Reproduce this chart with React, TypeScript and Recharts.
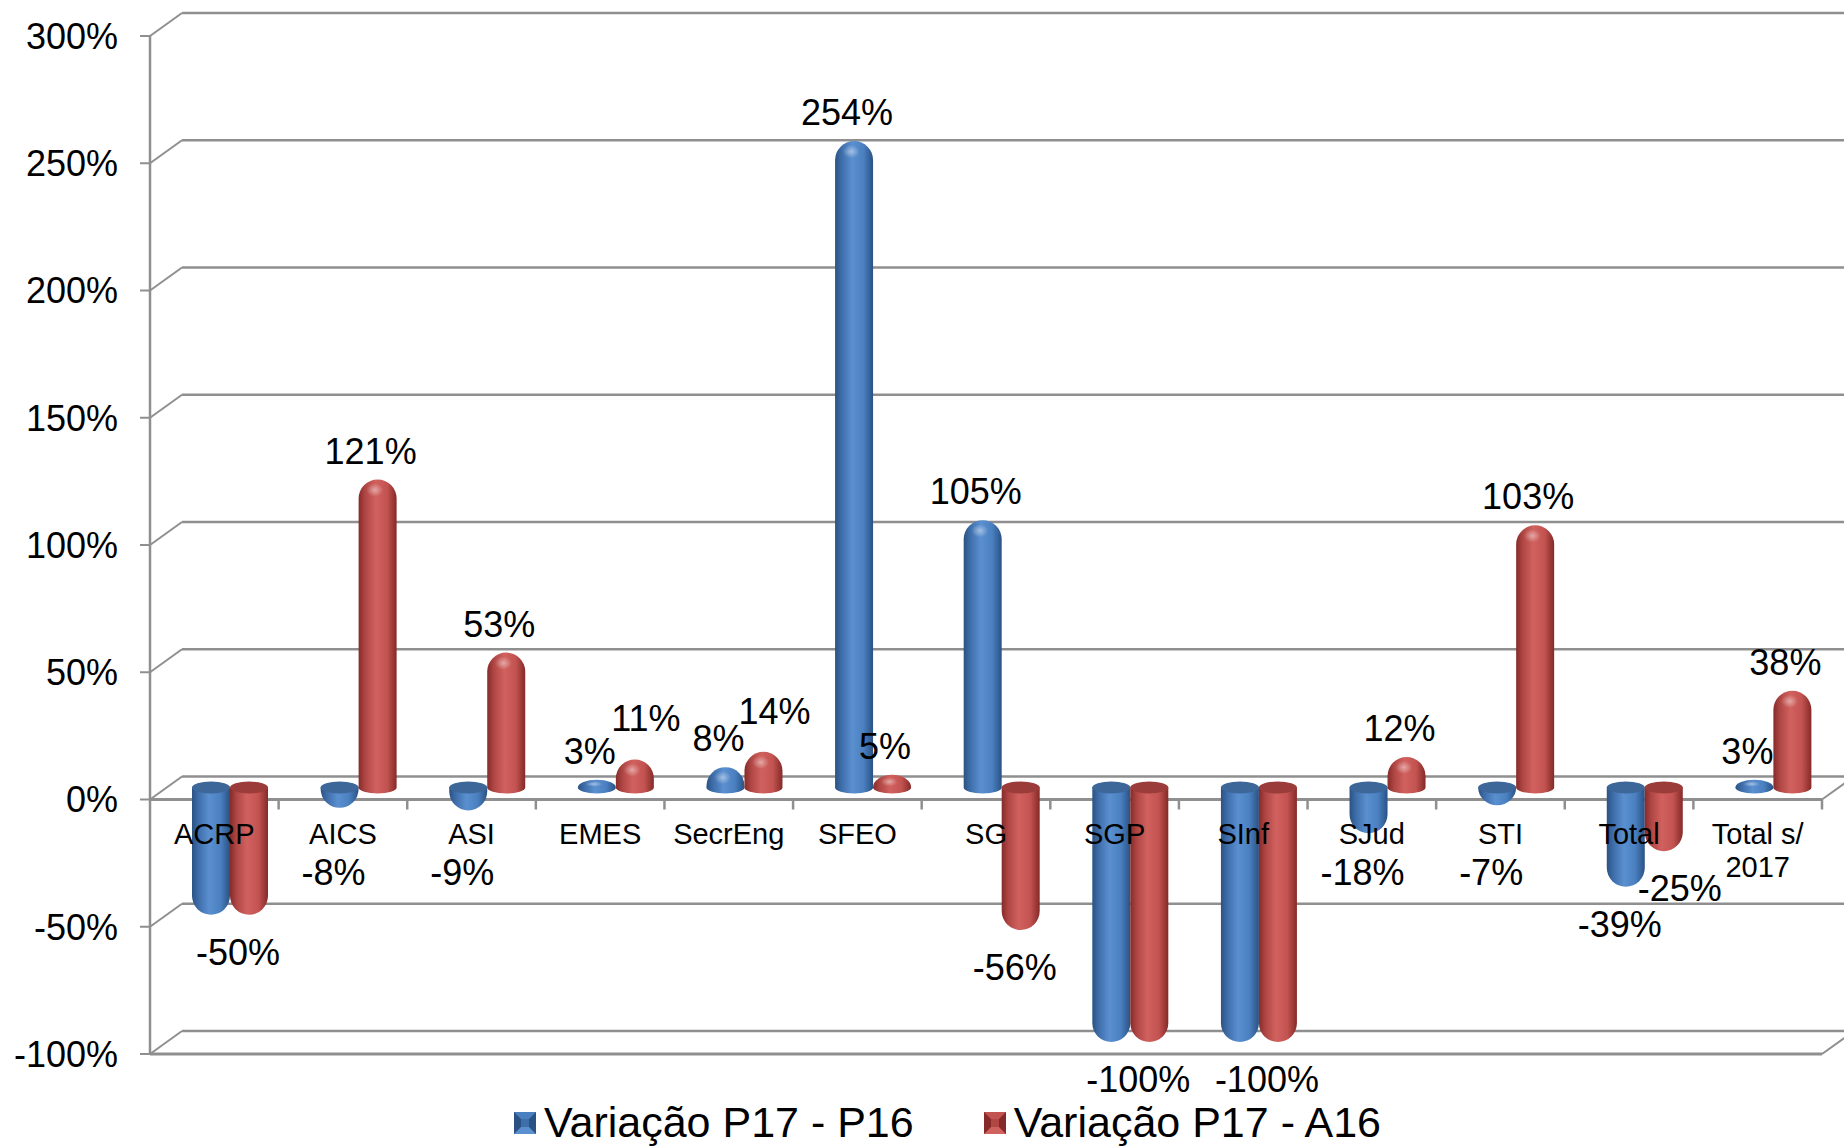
import React from 'react'
import {
  BarChart, Bar, XAxis, YAxis, CartesianGrid,
  ReferenceLine, LabelList, Legend,
} from 'recharts'

const categories = ['ACRP', 'AICS', 'ASI', 'EMES', 'SecrEng', 'SFEO', 'SG', 'SGP', 'SInf', 'SJud', 'STI', 'Total', 'Total s/ 2017']
const varP17P16 = [-50, -8, -9, 3, 8, 254, 105, -100, -100, -18, -7, -39, 3]
const varP17A16 = [-50, 121, 53, 11, 14, 5, -56, -100, -100, 12, 103, -25, 38]
const yTicks = [-100, -50, 0, 50, 100, 150, 200, 250, 300]
const seriesNames = ['Variação P17 - P16', 'Variação P17 - A16']

const data = categories.map((name, i) => ({ name, p16: varP17P16[i], a16: varP17A16[i] }))

const W = 1844
const H = 1148
const FONT = '"Liberation Sans", Arial, Helvetica, sans-serif'
const GRID = '#8f8f8f'
const Y_MIN = -100
const Y_MAX = 300

// front plane of the 3d box, back wall and the depth the bars sit at
const FRONT = { top: 36, right: 22, bottom: 94, left: 150 }
const BACK = { dx: 32, dy: -23 }
const MID = { dx: 16, dy: -12 }
const PLOT_W = W - FRONT.left - FRONT.right
const PLOT_H = H - FRONT.top - FRONT.bottom
const BAND = PLOT_W / categories.length
const ZERO_Y = FRONT.top + (Y_MAX / (Y_MAX - Y_MIN)) * PLOT_H
const XAXIS_H = 80

const COLORS = {
  p16: { base: '#4F81BD', top: '#3d6699', stops: ['#2b5283', '#3f6fab', '#5a8fd0', '#4a7fc0', '#2a5284'] },
  a16: { base: '#C0504D', top: '#9c3c3a', stops: ['#862b29', '#b04745', '#d1615e', '#c25350', '#842a28'] },
}

const layer: React.CSSProperties = { position: 'absolute', left: 0, top: 0 }

function backLine(p: any) {
  const { x1, y1, x2 } = p
  return (
    <g key={`back-${p.index}`}>
      <line x1={x1} y1={y1} x2={x1 + BACK.dx} y2={y1 + BACK.dy} stroke={GRID} strokeWidth={2} />
      <line x1={x1 + BACK.dx} y1={y1 + BACK.dy} x2={x2 + BACK.dx} y2={y1 + BACK.dy} stroke={GRID} strokeWidth={2.5} />
    </g>
  )
}

function frontEdge(p: any) {
  return (
    <g>
      <line x1={p.x1} y1={p.y1} x2={p.x2} y2={p.y2} stroke={GRID} strokeWidth={3} />
      <line x1={p.x2} y1={p.y2} x2={p.x2 + BACK.dx} y2={p.y2 + BACK.dy} stroke={GRID} strokeWidth={2} />
    </g>
  )
}

function YTick(p: any) {
  const { x, y, payload } = p
  return (
    <g>
      <line x1={x - 10} y1={y} x2={x} y2={y} stroke={GRID} strokeWidth={2} />
      <text x={x - 32} y={y} dy="0.36em" textAnchor="end" fontSize={36} fontFamily={FONT} fill="#000">
        {payload.value}%
      </text>
    </g>
  )
}

function splitLabel(s: string) {
  if (s.length > 8 && s.includes(' ')) {
    const k = s.lastIndexOf(' ')
    return [s.slice(0, k), s.slice(k + 1)]
  }
  return [s]
}

function XTick(p: any) {
  const { x, y, payload } = p
  const lines = splitLabel(payload.value)
  return (
    <g>
      <line x1={x + BAND / 2} y1={y} x2={x + BAND / 2} y2={y + 10} stroke={GRID} strokeWidth={2.5} />
      {lines.map((l, i) => (
        <text key={i} x={x} y={y + 44 + i * 33} textAnchor="middle" fontSize={29} fontFamily={FONT} fill="#000">
          {l}
        </text>
      ))}
    </g>
  )
}

const cylinder = (key: 'p16' | 'a16') => (p: any) => {
  const { x, y, width, height, payload } = p
  const v = payload[key]
  const top = Math.min(y, y + height)
  const bottom = Math.max(y, y + height)
  const r = width / 2
  const len = bottom - top
  const ry = Math.min(r, len)
  const ey = 6
  if (v >= 0) {
    const d = `M${x},${bottom} A${r},${ey} 0 0 0 ${x + width},${bottom} L${x + width},${top + ry} A${r},${ry} 0 0 0 ${x},${top + ry} Z`
    return (
      <g>
        <path d={d} fill={`url(#body-${key})`} />
        <ellipse cx={x + r * 0.85} cy={top + ry * 0.55} rx={r * 0.45} ry={Math.max(2, ry * 0.35)} fill="url(#shine)" />
      </g>
    )
  }
  const d = `M${x},${top} L${x},${bottom - ry} A${r},${ry} 0 0 0 ${x + width},${bottom - ry} L${x + width},${top} Z`
  return (
    <g>
      <path d={d} fill={`url(#body-${key})`} />
      <ellipse cx={x + r} cy={top} rx={r} ry={ey} fill={COLORS[key].top} />
    </g>
  )
}

const valueLabel = (key: 'p16' | 'a16') => (p: any) => {
  const vb = p.viewBox ?? p
  const row = data[p.index]
  if (!row || vb == null) return null
  const v = row[key]
  const other = key === 'p16' ? row.a16 : row.p16
  if (key === 'p16' && v === other) return null
  const top = Math.min(vb.y, vb.y + vb.height)
  const bottom = Math.max(vb.y, vb.y + vb.height)
  let cx = vb.x + vb.width / 2 + (v >= 0 ? -7 : -6)
  if (v === other) cx = vb.x + 8
  let cy: number
  if (v >= 0) {
    cy = top - 29
    // small neighbouring positives: lift and nudge the red label clear of the blue one
    if (key === 'a16' && other > 0 && Math.abs(v - other) < 15) {
      cy -= 12
      cx += 18
    }
  } else {
    cy = Math.max(bottom + 37, top + 85)
    if (key === 'a16' && other < 0 && other !== v) cx += 22
  }
  return (
    <text x={cx} y={cy} dy="0.36em" textAnchor="middle" fontSize={36} fontFamily={FONT} fill="#000">
      {v}%
    </text>
  )
}

function Marker({ k }: { k: 'p16' | 'a16' }) {
  const c = COLORS[k]
  return (
    <svg width={22} height={22} style={{ display: 'block' }}>
      <rect x={0} y={0} width={22} height={22} fill={c.base} />
      <polygon points="0,0 22,0 15,7 7,7" fill={c.stops[3]} />
      <polygon points="0,22 22,22 15,15 7,15" fill={c.stops[2]} />
      <polygon points="0,0 7,7 7,15 0,22" fill={c.stops[0]} />
      <polygon points="22,0 15,7 15,15 22,22" fill={c.stops[4]} />
      <rect x={7} y={7} width={8} height={8} fill={c.stops[1]} />
    </svg>
  )
}

function LegendContent(p: any) {
  const items = [...(p.payload ?? [])].sort(
    (a: any, b: any) => seriesNames.indexOf(a.value) - seriesNames.indexOf(b.value),
  )
  return (
    <div style={{ display: 'flex', alignItems: 'center', fontFamily: FONT, fontSize: 43, color: '#000', lineHeight: 1 }}>
      {items.map((e: any, i: number) => (
        <div key={i} style={{ display: 'flex', alignItems: 'center', marginRight: i === 0 ? 70 : 0 }}>
          <Marker k={e.dataKey === 'a16' ? 'a16' : 'p16'} />
          <span style={{ marginLeft: 8 }}>{e.value}</span>
        </div>
      ))}
    </div>
  )
}

export default function App() {
  return (
    <div style={{ position: 'relative', width: W, height: H, background: '#fff', overflow: 'hidden' }}>
      <style>{'body{margin:0;overflow:hidden}'}</style>

      {/* back wall, side wall, front edges, value axis */}
      <div style={layer}>
        <BarChart width={W} height={H} data={data} margin={{ top: FRONT.top, right: FRONT.right, bottom: FRONT.bottom, left: 0 }}>
          <CartesianGrid vertical={false} horizontal={backLine} />
          <XAxis dataKey="name" hide />
          <YAxis
            width={FRONT.left} domain={[Y_MIN, Y_MAX]} ticks={yTicks} interval={0}
            tickSize={0} tickMargin={0} tickLine={false}
            axisLine={{ stroke: GRID, strokeWidth: 2.5 }} tick={<YTick />}
          />
          <Bar dataKey="p16" shape={() => <g />} legendType="none" isAnimationActive={false} />
          <ReferenceLine y={-100} shape={frontEdge} />
          <ReferenceLine y={0} shape={frontEdge} />
        </BarChart>
      </div>

      {/* cylinders at mid depth */}
      <div style={layer}>
        <BarChart
          width={W} height={H} data={data} barSize={38} barGap={0}
          margin={{ top: FRONT.top + MID.dy, right: FRONT.right - MID.dx, bottom: FRONT.bottom - MID.dy, left: FRONT.left + MID.dx }}
        >
          <defs>
            {(['p16', 'a16'] as const).map(k => (
              <linearGradient key={k} id={`body-${k}`} x1="0" y1="0" x2="1" y2="0">
                <stop offset="0%" stopColor={COLORS[k].stops[0]} />
                <stop offset="18%" stopColor={COLORS[k].stops[1]} />
                <stop offset="45%" stopColor={COLORS[k].stops[2]} />
                <stop offset="75%" stopColor={COLORS[k].stops[3]} />
                <stop offset="100%" stopColor={COLORS[k].stops[4]} />
              </linearGradient>
            ))}
            <radialGradient id="shine">
              <stop offset="0%" stopColor="#fff" stopOpacity={0.45} />
              <stop offset="100%" stopColor="#fff" stopOpacity={0} />
            </radialGradient>
          </defs>
          <XAxis dataKey="name" hide />
          <YAxis hide domain={[Y_MIN, Y_MAX]} />
          <Bar dataKey="p16" name={seriesNames[0]} fill={COLORS.p16.base} shape={cylinder('p16')} isAnimationActive={false}>
            <LabelList dataKey="p16" content={valueLabel('p16')} />
          </Bar>
          <Bar dataKey="a16" name={seriesNames[1]} fill={COLORS.a16.base} shape={cylinder('a16')} isAnimationActive={false}>
            <LabelList dataKey="a16" content={valueLabel('a16')} />
          </Bar>
          <Legend
            verticalAlign="middle" layout="horizontal"
            wrapperStyle={{ left: 514, top: 1101, width: 1300 }}
            content={<LegendContent />}
          />
        </BarChart>
      </div>

      {/* category axis on the 0% line, drawn over the cylinders */}
      <div style={layer}>
        <BarChart
          width={W} height={H} data={data}
          margin={{ top: FRONT.top, right: FRONT.right, bottom: H - ZERO_Y - XAXIS_H, left: FRONT.left }}
        >
          <XAxis
            dataKey="name" height={XAXIS_H} interval={0} axisLine={false} tickLine={false}
            tickSize={0} tickMargin={0} tick={<XTick />}
          />
          <YAxis hide domain={[0, Y_MAX]} />
        </BarChart>
      </div>
    </div>
  )
}
